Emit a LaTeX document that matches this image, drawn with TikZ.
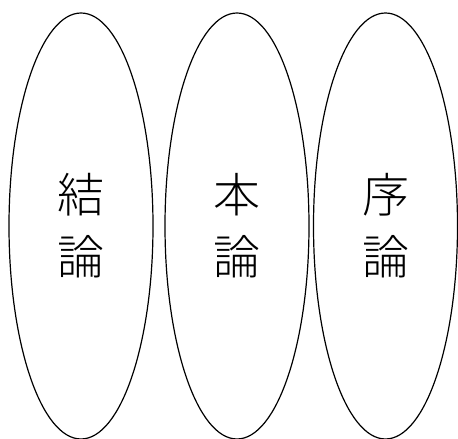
\documentclass[tikz,border=0pt]{standalone}
\usepackage{fontspec}
\newfontfamily\cjk{Noto Sans CJK JP}[UprightFont=* Light]
\usetikzlibrary{shapes.geometric}
\begin{document}
\begin{tikzpicture}[x=1pt,y=1pt,
  part/.style={draw, line width=1.2pt, ellipse, inner sep=0pt,
    minimum width=144pt, minimum height=426pt,
    align=center, font=\cjk\fontsize{47}{62}\selectfont}]
\useasboundingbox (0,0) rectangle (458,439);
\node[part] (ketsu) at (81,213) {結\\論};
\node[part] (hon) at (237,213) {本\\論};
\node[part] (jo) at (385.5,213) {序\\論};
\end{tikzpicture}
\end{document}
